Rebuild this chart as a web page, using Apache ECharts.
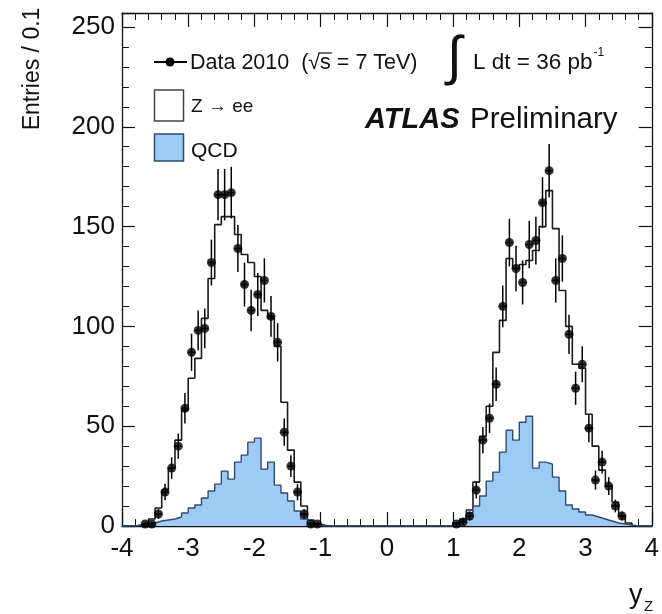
<!DOCTYPE html>
<html>
<head>
<meta charset="utf-8">
<script src="https://cdn.jsdelivr.net/npm/echarts@6/dist/echarts.min.js"></script>
<style>
  html, body { margin: 0; padding: 0; background: #fff; }
  #chart { width: 662px; height: 614px; }
</style>
</head>
<body>
<div id="chart"></div>
<script>
// Z boson rapidity, 80 bins of width 0.1 between -4 and 4
const BIN_LO = -4.0;
const BIN_W = 0.1;
const N_BINS = 80;

// Observed events per bin (Data 2010)
const dataCounts = [
  0, 0, 0, 1, 1, 6, 17, 29, 40, 59,
  87, 98, 99, 132, 166, 166, 167, 139, 121, 108,
  116, 123, 105, 92, 47, 30, 17, 6, 1, 1,
  0, 0, 0, 0, 0, 0, 0, 0, 0, 0,
  0, 0, 0, 0, 0, 0, 0, 0, 0, 0,
  1, 2, 5, 18, 43, 54, 71, 110, 142, 129,
  122, 141, 143, 162, 178, 123, 134, 96, 69, 81,
  49, 23, 32, 20, 10, 5, 0, 0, 0, 0
];

// QCD background per bin
const qcdCounts = [
  0, 0, 0.5, 1, 1.5, 2.5, 3, 3.5, 4.5, 6.5,
  9, 10.5, 14, 17.5, 21, 27.5, 23.5, 32, 35.5, 42,
  44, 28.5, 32, 20.5, 16.5, 12.5, 7.5, 3.5, 1.5, 0.5,
  0, 0, 0, 0, 0, 0, 0, 0, 0, 0,
  0, 0, 0, 0, 0, 0, 0, 0, 0, 0,
  1.5, 3, 6.5, 10, 15, 22.5, 27, 37, 48, 43,
  52, 55, 29, 32, 31, 24.5, 17.5, 10.5, 8.5, 7,
  5.5, 4.5, 3.5, 2.5, 1.5, 1, 0.5, 0, 0, 0
];

// Z -> ee signal per bin (stacked on top of QCD)
const zeeCounts = [
  0, 0, 0, 0.5, 2, 6.5, 15, 25.5, 38.5, 51.5,
  65, 73.5, 90, 106.5, 130, 127.5, 131.5, 114, 100.5, 90,
  81, 79.5, 72, 69.5, 45.5, 25.5, 14.5, 6.5, 1.5, 0.5,
  0, 0, 0, 0, 0, 0, 0, 0, 0, 0,
  0, 0, 0, 0, 0, 0, 0, 0, 0, 0,
  0, 0.5, 1.5, 12, 30, 37.5, 60, 66, 86, 86,
  79, 78, 109, 118, 137, 124.5, 100.5, 89.5, 72.5, 72,
  50.5, 35.5, 24.5, 17.5, 10.5, 4, 1, 0, 0, 0
];

const xTickLabels = ['-4', '-3', '-2', '-1', '0', '1', '2', '3', '4'];
const yTickLabels = ['0', '50', '100', '150', '200', '250'];

const FONT = "'Liberation Sans', Arial, Helvetica, sans-serif";
const QCD_FILL = '#9dcbf6';
const QCD_LINE = '#2f4b70';

// Histogram outline: one point per lower bin edge, closing at the upper edge
function histSteps(values) {
  const pts = values.map((v, k) => [BIN_LO + k * BIN_W, v]);
  pts.push([BIN_LO + N_BINS * BIN_W, values[N_BINS - 1]]);
  return pts;
}

const mcTotal = qcdCounts.map((q, k) => q + zeeCounts[k]);

const dataPoints = [];
dataCounts.forEach((n, k) => {
  if (n > 0) {
    const x = BIN_LO + (k + 0.5) * BIN_W;
    dataPoints.push([x, n, Math.sqrt(n)]);
  }
});

// text width helper for placing pieces of the legend text
const measureCtx = document.createElement('canvas').getContext('2d');
function textWidth(str, font) {
  measureCtx.font = font;
  return measureCtx.measureText(str).width;
}

const legendFont = '21.5px ' + FONT;
const dataLabelA = 'Data 2010  (\u221A';
const dataLabelB = 's';
const dataLabelC = ' = 7 TeV)';
const dataX = 190;
const wA = textWidth(dataLabelA, legendFont);
const wB = textWidth(dataLabelB, legendFont);

const lumiFont = '22.5px ' + FONT;
const lumiText = 'L dt = 36 pb';
const lumiX = 473;

const chart = echarts.init(document.getElementById('chart'));

const axisLineStyle = { color: '#111', width: 1.3 };

function xAxisDef(pos, showLabels) {
  return {
    type: 'value', position: pos, min: -4, max: 4, interval: 1,
    axisLine: { show: true, onZero: false, lineStyle: axisLineStyle },
    axisTick: { show: true, inside: true, length: 14, lineStyle: { color: '#111', width: 1.2 } },
    minorTick: { show: true, splitNumber: 5, length: 7, lineStyle: { color: '#111', width: 1 } },
    splitLine: { show: false },
    axisLabel: {
      show: showLabels, margin: 10, fontSize: 26, fontFamily: FONT, color: '#111',
      formatter: v => xTickLabels[Math.round(v) + 4]
    }
  };
}

function yAxisDef(pos, showLabels) {
  return {
    type: 'value', position: pos, min: 0, max: 257, interval: 50,
    axisLine: { show: true, onZero: false, lineStyle: axisLineStyle },
    axisTick: { show: true, inside: true, length: 13, lineStyle: { color: '#111', width: 1.2 } },
    minorTick: { show: true, splitNumber: 5, length: 7, lineStyle: { color: '#111', width: 1 } },
    splitLine: { show: false },
    axisLabel: {
      show: showLabels, margin: 7, fontSize: 26, fontFamily: FONT, color: '#111',
      showMaxLabel: false,
      formatter: v => {
        const i = Math.round(v / 50);
        return (Math.abs(v - i * 50) < 1e-6 && yTickLabels[i] !== undefined) ? yTickLabels[i] : '';
      }
    }
  };
}

const option = {
  animation: false,
  backgroundColor: '#fff',
  grid: { left: 122, right: 4, top: 13, bottom: 88, containLabel: false },
  xAxis: [xAxisDef('bottom', true), xAxisDef('top', false)],
  yAxis: [yAxisDef('left', true), yAxisDef('right', false)],
  series: [
    {
      name: 'Z \u2192 ee', type: 'line', step: 'end', xAxisIndex: 0, yAxisIndex: 0,
      data: histSteps(mcTotal), symbol: 'none', silent: true, z: 2,
      lineStyle: { color: '#1a1a1a', width: 1.6 },
      areaStyle: { color: '#ffffff', opacity: 1 }
    },
    {
      name: 'QCD', type: 'line', step: 'end', xAxisIndex: 0, yAxisIndex: 0,
      data: histSteps(qcdCounts), symbol: 'none', silent: true, z: 3,
      lineStyle: { color: QCD_LINE, width: 1.4 },
      areaStyle: { color: QCD_FILL, opacity: 1 }
    },
    {
      name: 'Data errors', type: 'custom', xAxisIndex: 0, yAxisIndex: 0, z: 4, silent: true,
      data: dataPoints,
      renderItem: function (params, api) {
        const x = api.value(0), y = api.value(1), e = api.value(2);
        const top = api.coord([x, y + e]);
        const bot = api.coord([x, Math.max(0, y - e)]);
        const l = api.coord([x - BIN_W / 2, y]);
        const r = api.coord([x + BIN_W / 2, y]);
        const style = { stroke: '#000', lineWidth: 1.5 };
        return {
          type: 'group',
          children: [
            { type: 'line', shape: { x1: top[0], y1: top[1], x2: bot[0], y2: bot[1] }, style: style },
            { type: 'line', shape: { x1: l[0], y1: l[1], x2: r[0], y2: r[1] }, style: style }
          ]
        };
      }
    },
    {
      name: 'Data 2010', type: 'scatter', xAxisIndex: 0, yAxisIndex: 0, z: 5, silent: true,
      data: dataPoints.map(p => [p[0], p[1]]),
      symbol: 'circle', symbolSize: 9,
      itemStyle: { color: '#000' }
    }
  ],
  graphic: [
    // axis titles
    {
      type: 'text', x: 33, y: 69, rotation: Math.PI / 2,
      style: { text: 'Entries / 0.1', font: '23px ' + FONT, fill: '#111', align: 'center', verticalAlign: 'middle' }
    },
    {
      type: 'text', x: 629, y: 596,
      style: { text: 'y', font: '27px ' + FONT, fill: '#111', align: 'left', verticalAlign: 'middle' }
    },
    {
      type: 'text', x: 644, y: 607,
      style: { text: 'Z', font: '15px ' + FONT, fill: '#111', align: 'left', verticalAlign: 'middle' }
    },
    // legend: data
    { type: 'line', shape: { x1: 154, y1: 62, x2: 187, y2: 62 }, style: { stroke: '#000', lineWidth: 2 } },
    { type: 'circle', shape: { cx: 170, cy: 62, r: 4.5 }, style: { fill: '#000' } },
    {
      type: 'text', x: dataX, y: 63,
      style: { text: dataLabelA, font: legendFont, fill: '#111', align: 'left', verticalAlign: 'middle' }
    },
    {
      type: 'text', x: dataX + wA, y: 63,
      style: { text: dataLabelB, font: legendFont, fill: '#111', align: 'left', verticalAlign: 'middle' }
    },
    { type: 'line', shape: { x1: dataX + wA - 1, y1: 53, x2: dataX + wA + wB + 1, y2: 53 }, style: { stroke: '#111', lineWidth: 1.2 } },
    {
      type: 'text', x: dataX + wA + wB, y: 63,
      style: { text: dataLabelC, font: legendFont, fill: '#111', align: 'left', verticalAlign: 'middle' }
    },
    // legend: Z -> ee
    { type: 'rect', shape: { x: 154.5, y: 90, width: 29, height: 31 }, style: { fill: '#fff', stroke: '#444', lineWidth: 1.5 } },
    {
      type: 'text', x: 191, y: 107,
      style: { text: 'Z \u2192 ee', font: '19px ' + FONT, fill: '#111', align: 'left', verticalAlign: 'middle' }
    },
    // legend: QCD
    { type: 'rect', shape: { x: 154.5, y: 134, width: 29, height: 27 }, style: { fill: QCD_FILL, stroke: QCD_LINE, lineWidth: 1.5 } },
    {
      type: 'text', x: 191, y: 151,
      style: { text: 'QCD', font: '21px ' + FONT, fill: '#111', align: 'left', verticalAlign: 'middle' }
    },
    // luminosity
    {
      type: 'text', x: 447, y: 59,
      style: { text: '\u222B', font: '54px ' + FONT, fill: '#111', align: 'left', verticalAlign: 'middle' }
    },
    {
      type: 'text', x: lumiX, y: 63,
      style: { text: lumiText, font: lumiFont, fill: '#111', align: 'left', verticalAlign: 'middle' }
    },
    {
      type: 'text', x: lumiX + textWidth(lumiText, lumiFont) + 1, y: 53,
      style: { text: '-1', font: '12px ' + FONT, fill: '#111', align: 'left', verticalAlign: 'middle' }
    },
    // experiment label
    {
      type: 'text', x: 365, y: 120,
      style: { text: 'ATLAS', font: 'italic bold 29px ' + FONT, fill: '#111', align: 'left', verticalAlign: 'middle' }
    },
    {
      type: 'text', x: 470, y: 120,
      style: { text: 'Preliminary', font: '29.5px ' + FONT, fill: '#111', align: 'left', verticalAlign: 'middle' }
    }
  ]
};

chart.setOption(option);
</script>
</body>
</html>
